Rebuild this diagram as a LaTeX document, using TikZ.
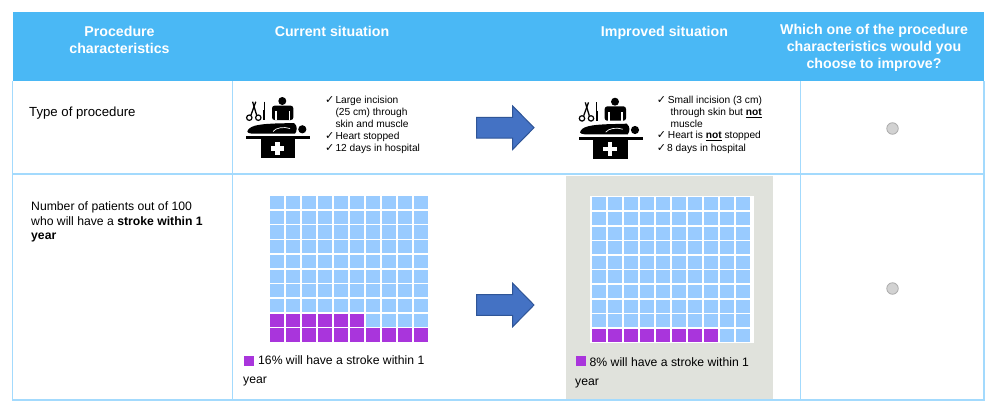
\documentclass[tikz,border=0pt]{standalone}
\usepackage{fontspec}
\setmainfont{Liberation Sans}
\newfontfamily\checkfont{DejaVu Sans}
\definecolor{headblue}{HTML}{4AB8F5}
\definecolor{ruleblue}{HTML}{A3DAFD}
\definecolor{cellblue}{HTML}{99CBFF}
\definecolor{cellpurple}{HTML}{A935DC}
\definecolor{shadegray}{HTML}{E0E2DC}
\definecolor{arrowfill}{HTML}{4472C4}
\definecolor{arrowedge}{HTML}{2F5597}
\definecolor{radiofill}{HTML}{D2D2D2}
\definecolor{radioedge}{HTML}{ABABAB}
\newcommand{\chk}{{\checkfont\fontsize{11}{12}\selectfont\char"2713}}
\tikzset{
  headtext/.style={text=white, align=center, inner sep=0pt, font=\fontsize{14.2}{17}\selectfont\bfseries},
  bodytext/.style={anchor=mid west, inner sep=0pt, align=left, font=\fontsize{13.2}{15}\selectfont},
  numtext/.style={anchor=north west, inner sep=0pt, align=left, font=\fontsize{12.2}{14.7}\selectfont},
  listtext/.style={anchor=mid west, inner sep=0pt, font=\fontsize{10.2}{12}\selectfont},
  captext/.style={anchor=mid west, inner sep=0pt, font=\fontsize{12.2}{14}\selectfont},
  rule/.style={draw=ruleblue, line width=1.1pt},
  radio/.style={circle, draw=radioedge, fill=radiofill, line width=0.8pt, minimum size=11.5pt, inner sep=0pt},
  pics/surgeon/.style={code={
    \fill (42.3,11) circle (4);
    \fill[rounded corners=2.5pt] (32,15.7) rectangle (53.3,30);
    \fill[white] (35.2,21) rectangle (36.8,30);
    \fill[white] (48.6,21) rectangle (50.2,30);
    % patient on the table
    \fill (8,40) .. controls (11,34.5) and (25,34) .. (35,33.5) -- (54,33)
      .. controls (58,36) and (57,41) .. (55,43.7) -- (14,43.7) .. controls (9,43.7) and (6,42.5) .. (8,40) -- cycle;
    \draw[white, line width=0.7pt] (33,41.5) .. controls (36,37.5) and (44,36.5) .. (50,38.5);
    \fill (62.3,39.3) circle (4.1);
    \fill (6,46) rectangle (70,49.3);
    \fill (20.7,49.3) rectangle (55,68.3);
    \fill[white] (35,51.7) rectangle (39.7,65);
    \fill[white] (30.7,56) rectangle (44,60.7);
    % scissors and scalpel
    \draw[line width=1.2pt] (9.3,27.7) circle (2.7);
    \draw[line width=1.2pt] (18.3,27.7) circle (2.7);
    \draw[line width=1.3pt] (11,25) -- (15.8,11.7);
    \draw[line width=1.3pt] (16.6,25) -- (12.6,11.7);
    \draw[line width=0.9pt] (24,11.7) -- (24,24);
    \draw[line width=1.8pt] (24,20) -- (24,30);
  }},
  pics/bluearrow/.style={code={
    \draw[fill=arrowfill, draw=arrowedge, line width=1pt] (0,-10.3) -- (36,-10.3) -- (36,-21.7) -- (57.3,0)
      -- (36,21.7) -- (36,10.3) -- (0,10.3) -- cycle;
  }}
}
\begin{document}
\begin{tikzpicture}[x=1pt, y=-1pt]
  \useasboundingbox (0,0) rectangle (1000,412);
  \fill[white] (0,0) rectangle (1000,412);

  % shaded cell goes under the rules
  \fill[shadegray] (566,175.5) rectangle (773,400);

  % table
  \fill[headblue] (12.5,12) rectangle (984,81);
  \draw[rule] (12.5,81) -- (12.5,400) -- (984,400) -- (984,81);
  \draw[rule] (12.5,174) -- (984,174);
  \draw[rule] (232.5,81) -- (232.5,400);
  \draw[rule] (800.5,81) -- (800.5,400);

  % header
  \node[headtext] (headProc) at (119.5,39.5) {Procedure\\characteristics};
  \node[headtext] (headCur) at (332,31) {Current situation};
  \node[headtext] (headImp) at (664.5,32.5) {Improved situation};
  \node[headtext] (headWhich) at (874,48) {Which one of the procedure\\characteristics would you\\choose to improve?};

  % first column
  \node[bodytext] (rowType) at (29,114) {Type of procedure};
  \node[numtext] (rowNum) at (31,201.5) {Number of patients out of 100\\who will have a \textbf{stroke within 1}\\\textbf{year}};

  % type of procedure
  \pic at (240,90) {surgeon};
  \node[listtext] (chkA) at (325,100.5) {\chk};
  \node[listtext] (txtA) at (335.3,100.5) {Large incision};
  \node[listtext] (txtB) at (335.3,112.7) {(25 cm) through};
  \node[listtext] (txtC) at (335.3,125) {skin and muscle};
  \node[listtext] (chkD) at (325,136.7) {\chk};
  \node[listtext] (txtD) at (335.3,136.7) {Heart stopped};
  \node[listtext] (chkE) at (325,149) {\chk};
  \node[listtext] (txtE) at (335.3,149) {12 days in hospital};

  \pic at (476.7,127.7) {bluearrow};

  \pic at (572.7,90.7) {surgeon};
  \node[listtext] (chkF) at (656.7,100.5) {\chk};
  \node[listtext] (txtF) at (667.7,100.5) {Small incision (3 cm)};
  \node[listtext] (txtG) at (670.3,112.7) {through skin but \underline{\textbf{not}}};
  \node[listtext] (txtH) at (670.3,125) {muscle};
  \node[listtext] (chkI) at (656.7,135.7) {\chk};
  \node[listtext] (txtI) at (667.7,135.7) {Heart is \underline{\textbf{not}} stopped};
  \node[listtext] (chkJ) at (656.7,149) {\chk};
  \node[listtext] (txtJ) at (667,149) {8 days in hospital};

  % current grid, 16 of 100
  \foreach \c in {0,...,9}
    \foreach \r in {0,...,9}
      \fill[cellblue] (269.5+16*\c,196+14.7*\r) rectangle +(14.3,13.2);
  \foreach \c in {0,...,5}
    \fill[cellpurple] (269.5+16*\c,313.6) rectangle +(14.3,13.2);
  \foreach \c in {0,...,9}
    \fill[cellpurple] (269.5+16*\c,328.3) rectangle +(14.3,13.2);

  \fill[cellpurple] (244,356) rectangle (253.5,366);
  \node[captext] (capCur) at (258,362.2) {16\% will have a stroke within 1};
  \node[captext] (capCurB) at (243,380.8) {year};

  \pic at (476.7,305) {bluearrow};

  % improved grid, 8 of 100
  \fill[white] (590,196) rectangle (753.7,343);
  \foreach \c in {0,...,9}
    \foreach \r in {0,...,9}
      \fill[cellblue] (591.7+16.05*\c,197.3+14.6*\r) rectangle +(14.3,13);
  \foreach \c in {0,...,7}
    \fill[cellpurple] (591.7+16.05*\c,328.7) rectangle +(14.3,13);

  \fill[cellpurple] (575.7,356) rectangle (586,366);
  \node[captext] (capImp) at (589.5,363.5) {8\% will have a stroke within 1};
  \node[captext] (capImpB) at (575,382.5) {year};

  % answers
  \node[radio] (radioA) at (892.5,128.5) {};
  \node[radio] (radioB) at (892.5,288.5) {};
\end{tikzpicture}
\end{document}
